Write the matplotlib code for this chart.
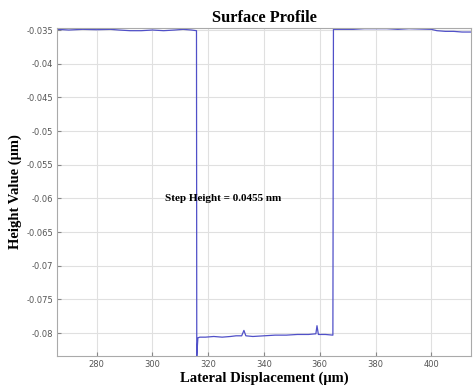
import matplotlib
matplotlib.use("Agg")
import matplotlib.pyplot as plt

# Surface profile
lateral_um = [266.0, 270.0, 275.0, 280.0, 285.0, 288.0, 292.0, 296.0, 300.0, 304.0,
              308.0, 311.0, 314.0, 315.8,
              315.9, 316.3, 317.0, 319.0, 322.0, 325.0, 328.0, 330.0, 332.0, 332.8,
              333.5, 336.0, 340.0, 344.0, 348.0, 352.0, 356.0, 358.6, 359.0, 359.5,
              362.0, 364.7,
              364.9, 368.0, 372.0, 376.0, 380.0, 384.0, 388.0, 392.0, 396.0, 400.0,
              402.0, 405.0, 408.0, 411.0, 414.2]
height_um = [-0.0349, -0.0350, -0.0349, -0.03495, -0.0349, -0.0350, -0.0351, -0.0351, -0.0350, -0.0351,
             -0.0350, -0.0349, -0.0350, -0.0351,
             -0.0834, -0.0807, -0.0806, -0.0806, -0.0805, -0.0806, -0.0805, -0.0804, -0.0804, -0.0796,
             -0.0804, -0.0805, -0.0804, -0.0803, -0.0803, -0.0802, -0.0802, -0.0801, -0.0789, -0.0802,
             -0.0802, -0.0803,
             -0.0349, -0.0349, -0.0349, -0.0348, -0.0348, -0.0348, -0.0349, -0.0348, -0.03485, -0.0349,
             -0.0351, -0.0352, -0.0352, -0.0353, -0.0353]

x_ticks = [280, 300, 320, 340, 360, 380, 400]
y_ticks = [-0.035, -0.04, -0.045, -0.05, -0.055, -0.06, -0.065, -0.07, -0.075, -0.08]
y_tick_labels = ['-0.035', '-0.04', '-0.045', '-0.05', '-0.055', '-0.06',
                 '-0.065', '-0.07', '-0.075', '-0.08']
step_note = 'Step Height = 0.0455 nm'

fig = plt.figure(figsize=(4.76, 3.92), dpi=100)
ax = fig.add_axes([0.1204, 0.0918, 0.869, 0.8368])

ax.plot(lateral_um, height_um, color='#5050c8', linewidth=0.9)

ax.set_xlim(265.9, 414.2)
ax.set_ylim(-0.0834, -0.0347)
ax.set_xticks(x_ticks)
ax.set_yticks(y_ticks)
ax.set_yticklabels(y_tick_labels)
ax.grid(True, color='#e0e0e0', linewidth=0.8)
ax.set_axisbelow(True)
ax.tick_params(direction='in', length=3, labelsize=6, colors='#888888', labelcolor='#555555', pad=3)
for s in ax.spines.values():
    s.set_color('#aaaaaa')

serif = 'Liberation Serif'
ax.set_title('Surface Profile', fontfamily=serif, fontweight='bold', fontsize=11.8, pad=4)
ax.set_xlabel('Lateral Displacement (\u03bcm)', fontfamily=serif, fontweight='bold', fontsize=10.5, labelpad=2)
ax.set_ylabel('Height Value (\u03bcm)', fontfamily=serif, fontweight='bold', fontsize=10.5, labelpad=3)

ax.text(304.5, -0.06, step_note, fontfamily=serif, fontweight='bold', fontsize=8,
        ha='left', va='center')

fig.savefig('out.png', dpi=100)
